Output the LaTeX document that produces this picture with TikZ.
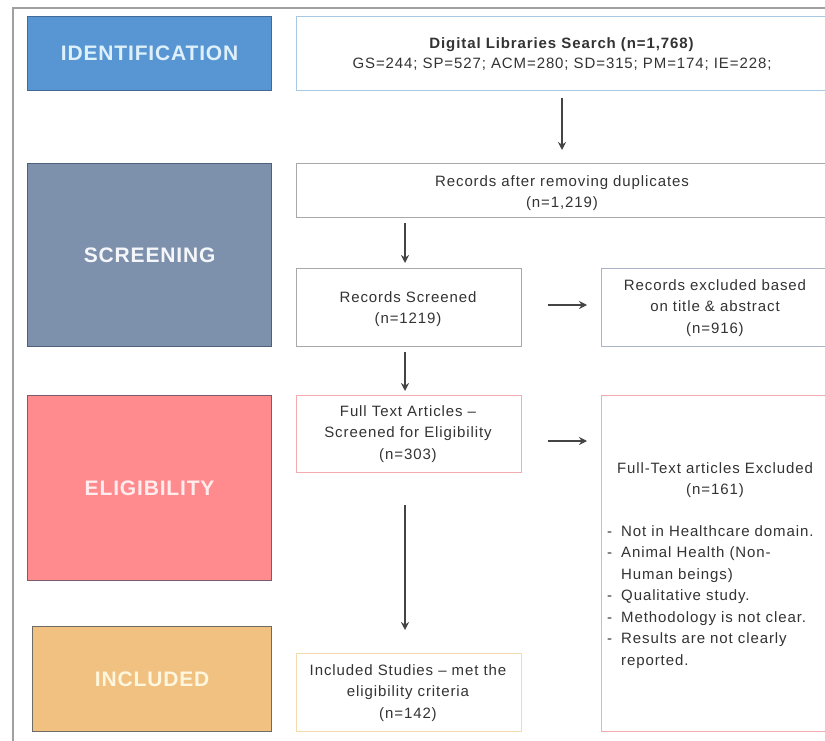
\documentclass[tikz,border=0pt]{standalone}
\usepackage{fontspec}
\setmainfont{Liberation Sans}
\newfontfamily\spacedfont[LetterSpace=6]{Liberation Sans}
\newfontfamily\stagefont[LetterSpace=4]{Liberation Sans}
\usetikzlibrary{arrows.meta}
\definecolor{txt}{HTML}{333333}
\definecolor{arr}{HTML}{444444}
\definecolor{frame}{HTML}{A0A0A0}
\definecolor{idfill}{HTML}{5896D3}
\definecolor{idline}{HTML}{41699A}
\definecolor{scfill}{HTML}{7E91AC}
\definecolor{scline}{HTML}{4F607A}
\definecolor{elfill}{HTML}{FF8B8F}
\definecolor{elline}{HTML}{7A5C6A}
\definecolor{infill}{HTML}{F0C181}
\definecolor{inline}{HTML}{6E6A66}
\definecolor{bblue}{HTML}{A9C8E4}
\definecolor{bgray}{HTML}{A8A8A8}
\definecolor{bgblue}{HTML}{AAB3C6}
\definecolor{bpink}{HTML}{F2ABB0}
\definecolor{borange}{HTML}{F3DBAE}
\tikzset{
  x=1pt, y=-1pt,
  stage/.style={draw, line width=1.2pt, anchor=north west, inner sep=0pt,
    font=\stagefont\fontsize{21}{25}\selectfont\bfseries},
  flowbox/.style={draw, line width=1.1pt, anchor=north west, inner sep=0pt},
  flowtext/.style={text=txt, align=center, inner sep=0pt,
    font=\spacedfont\fontsize{15}{21.5}\selectfont},
  conn/.style={draw=arr, line width=2.4pt, -{Stealth[length=8pt,width=8pt]}}
}
\begin{document}
\begin{tikzpicture}
\useasboundingbox (0,0) rectangle (825,741);
\fill[white] (0,0) rectangle (825,741);
% frame
\draw[frame, line width=1.6pt] (13,741) -- (13,8) -- (825,8);
% stage boxes
\node[stage, fill=idfill, draw=idline, text={rgb,255:red,222;green,240;blue,250},
  minimum width=244pt, minimum height=74pt] (ident) at (27,16) {IDENTIFICATION};
\node[stage, fill=scfill, draw=scline, text={rgb,255:red,245;green,246;blue,250},
  minimum width=244pt, minimum height=183pt] (screen) at (27,163) {SCREENING};
\node[stage, fill=elfill, draw=elline, text={rgb,255:red,255;green,236;blue,236},
  minimum width=244pt, minimum height=185pt] (elig) at (27,395) {ELIGIBILITY};
\node[stage, fill=infill, draw=inline, text={rgb,255:red,255;green,246;blue,222},
  minimum width=239pt, minimum height=105pt] (incl) at (32,626) {INCLUDED};
% flow boxes
\node[flowbox, draw=bblue, minimum width=533pt, minimum height=74pt] (dls) at (296,16) {};
\node[flowtext, font=\spacedfont\fontsize{15}{19.5}\selectfont] (dlst) at (562,54) {\textbf{Digital Libraries Search (n=1,768)}\\GS=244; SP=527; ACM=280; SD=315; PM=174; IE=228;};
\node[flowbox, draw=bgray, minimum width=533pt, minimum height=54pt] (rard) at (296,163) {};
\node[flowtext] (rardt) at (562,193) {Records after removing duplicates\\(n=1,219)};
\node[flowbox, draw=bgray, minimum width=225pt, minimum height=78pt] (rs) at (296,268) {};
\node[flowtext] (rst) at (408,309) {Records Screened\\(n=1219)};
\node[flowbox, draw=bgblue, minimum width=228pt, minimum height=78pt] (rex) at (601,268) {};
\node[flowtext] (rext) at (715,308) {Records excluded based\\on title \& abstract\\(n=916)};
\node[flowbox, draw=bpink, minimum width=225pt, minimum height=77pt] (ft) at (296,395) {};
\node[flowtext] (ftt) at (408,434) {Full Text Articles –\\Screened for Eligibility\\(n=303)};
\node[flowbox, draw=bpink, minimum width=228pt, minimum height=336pt] (fex) at (601,395) {};
\node[flowtext] (fext) at (715,480) {Full-Text articles Excluded\\(n=161)};
\node[flowtext, align=left, anchor=north west] (fexl) at (607,525)
  {\makebox[14pt][l]{-}Not in Healthcare domain.\\
   \makebox[14pt][l]{-}Animal Health (Non-\\
   \hspace*{14pt}Human beings)\\
   \makebox[14pt][l]{-}Qualitative study.\\
   \makebox[14pt][l]{-}Methodology is not clear.\\
   \makebox[14pt][l]{-}Results are not clearly\\
   \hspace*{14pt}reported.};
\node[flowbox, draw=borange, minimum width=225pt, minimum height=78pt] (is) at (296,653) {};
\node[flowtext] (ist) at (408,693) {Included Studies – met the\\eligibility criteria\\(n=142)};
% connectors
\coordinate (a1s) at (562,98);  \coordinate (a1e) at (562,150);
\coordinate (a2s) at (405,223); \coordinate (a2e) at (405,263);
\coordinate (a3s) at (548,305); \coordinate (a3e) at (587,305);
\coordinate (a4s) at (405,352); \coordinate (a4e) at (405,391);
\coordinate (a5s) at (548,441); \coordinate (a5e) at (587,441);
\coordinate (a6s) at (405,505); \coordinate (a6e) at (405,630);
\draw[conn] (a1s) -- (a1e);
\draw[conn] (a2s) -- (a2e);
\draw[conn] (a3s) -- (a3e);
\draw[conn] (a4s) -- (a4e);
\draw[conn] (a5s) -- (a5e);
\draw[conn] (a6s) -- (a6e);
\end{tikzpicture}
\end{document}
